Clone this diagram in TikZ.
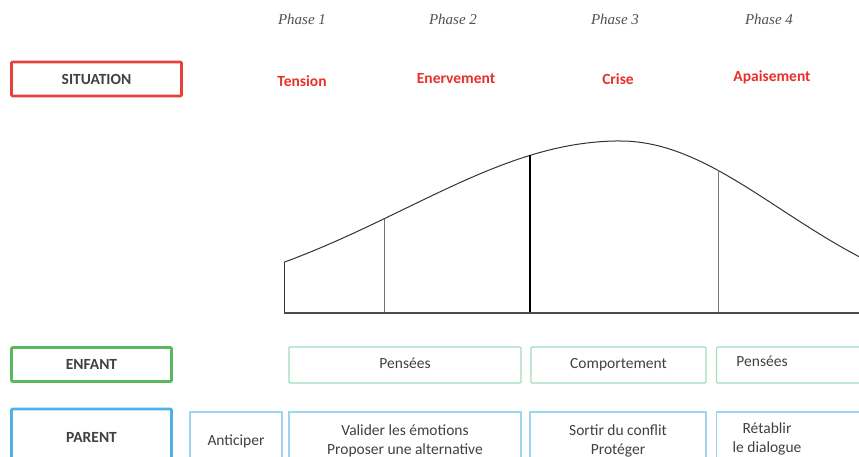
\documentclass[tikz,border=0pt]{standalone}
\usepackage{fontspec}
\setmainfont{Carlito}
\newfontfamily\phasefont{Liberation Serif}
\definecolor{sitred}{HTML}{E5403A}
\definecolor{redtxt}{HTML}{E8302A}
\definecolor{enfgreen}{HTML}{5CB85C}
\definecolor{lgreen}{HTML}{9FDDB8}
\definecolor{parblue}{HTML}{4DB0E8}
\definecolor{lblue}{HTML}{9ED6F2}
\definecolor{txtgray}{HTML}{404040}
\definecolor{phasegray}{HTML}{505050}
\tikzset{
  catbox/.style={draw, line width=2.6pt, rounded corners=1pt, font=\fontsize{15.5}{18}\selectfont\bfseries, text=txtgray},
  greenbox/.style={draw=lgreen, line width=1.2pt, rounded corners=1pt, minimum height=36pt},
  bluebox/.style={draw=lblue, line width=1.2pt, minimum height=58pt},
  boxtxt/.style={font=\fontsize{15.5}{19.5}\selectfont, text=txtgray, align=center, inner sep=0pt},
  onetxt/.style={text height=11pt, text depth=3.5pt},
  phaselbl/.style={font=\phasefont\itshape\fontsize{15}{18}\selectfont, text=phasegray},
  sitlbl/.style={font=\fontsize{15.5}{18}\selectfont\bfseries, text=redtxt},
  curveline/.style={draw=black!80, line width=1pt},
  divthin/.style={draw=black!55, line width=0.9pt},
  divthick/.style={draw=black, line width=1.2pt},
  baseline/.style={draw=black!70, line width=1.6pt}
}
\begin{document}
\begin{tikzpicture}[x=1pt,y=-1pt]
\useasboundingbox (0,0) rectangle (859,457);
\clip (0,0) rectangle (859,457);
% phase headers
\node[phaselbl] (ph1) at (302,19) {Phase 1};
\node[phaselbl] (ph2) at (453,19) {Phase 2};
\node[phaselbl] (ph3) at (615,19) {Phase 3};
\node[phaselbl] (ph4) at (769,19) {Phase 4};
% situation row
\node[catbox, draw=sitred, minimum width=170pt, minimum height=34pt] (sit) at (96.5,79) {SITUATION};
\node[sitlbl] (s1) at (302,81) {Tension};
\node[sitlbl] (s2) at (456,79) {Enervement};
\node[sitlbl] (s3) at (618,79) {Crise};
\node[sitlbl] (s4) at (772,77) {Apaisement};
% curve
\coordinate (b0) at (284,313);
\coordinate (b1) at (384,313);
\coordinate (b2) at (530,313);
\coordinate (b3) at (718,313);
\coordinate (bR) at (870,313);
\coordinate (c0) at (284,{313-172*exp(-0.5*((284-620)/215)^2)});
\coordinate (c1) at (384,{313-172*exp(-0.5*((384-620)/215)^2)});
\coordinate (c2) at (530,{313-172*exp(-0.5*((530-620)/215)^2)});
\coordinate (c3) at (718,{313-172*exp(-0.5*((718-620)/160)^2)});
\draw[curveline] plot[domain=284:620, samples=80] (\x,{313-172*exp(-0.5*((\x-620)/215)^2)});
\draw[curveline] plot[domain=620:870, samples=60] (\x,{313-172*exp(-0.5*((\x-620)/160)^2)});
\draw[curveline] (b0) -- (c0);
\draw[divthin] (b1) -- (c1);
\draw[divthick] (b2) -- (c2);
\draw[divthin] (b3) -- (c3);
\draw[baseline] (b0) -- (bR);
% enfant row
\node[catbox, draw=enfgreen, minimum width=160pt, minimum height=34pt] (enf) at (91.5,364.5) {ENFANT};
\node[greenbox, minimum width=232pt, boxtxt, onetxt] (e1) at (405,365) {Pensées};
\node[greenbox, minimum width=175pt, boxtxt, onetxt] (e2) at (618.5,365) {Comportement};
\node[greenbox, minimum width=170pt, anchor=west] (e3) at (716,365) {};
\node[boxtxt, onetxt] (e3t) at (762,363) {Pensées};
% parent row
\node[catbox, draw=parblue, minimum width=160pt, minimum height=56pt] (par) at (91.5,437) {PARENT};
\node[bluebox, minimum width=92pt, boxtxt] (p0) at (236,441) {Anticiper};
\node[bluebox, minimum width=232pt, boxtxt] (p1) at (405,441) {Valider les émotions\\Proposer une alternative};
\node[bluebox, minimum width=176pt, boxtxt] (p2) at (618,441) {Sortir du conflit\\Protéger};
\node[bluebox, minimum width=170pt, anchor=west] (p3) at (716,441) {};
\node[boxtxt] (p3t) at (767,439) {Rétablir\\le dialogue};
\end{tikzpicture}
\end{document}
